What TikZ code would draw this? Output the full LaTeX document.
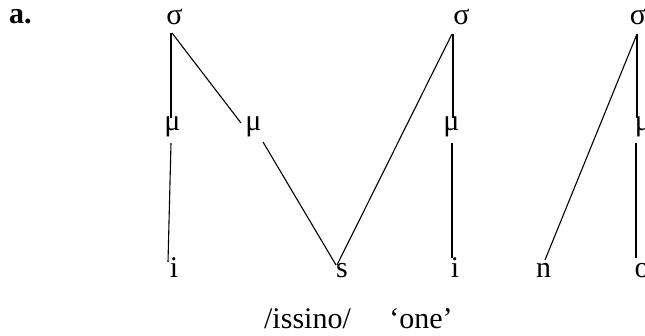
\documentclass[tikz,border=0pt]{standalone}
\usepackage{fontspec}
\setmainfont{Liberation Serif}
\usetikzlibrary{calc}
\tikzset{
  lab/.style={inner sep=0pt, anchor=base, font=\fontsize{30}{33}\selectfont},
  assoc/.style={draw=black, line width=1.1pt}
}
\begin{document}
\begin{tikzpicture}[x=1pt,y=1pt]
\useasboundingbox (0,0) rectangle (645,335);
\begin{scope}
\clip (0,0) rectangle (645,335);
\node[lab, anchor=base west, font=\fontsize{30}{33}\selectfont\bfseries] (a) at (9,311) {a.};
% syllables
\node[lab] (s1) at (174.5,310) {σ};
\node[lab] (s2) at (461.5,310) {σ};
\node[lab] (s3) at (638,310) {σ};
% moras
\node[lab] (m1) at (172.5,204) {μ};
\node[lab] (m2) at (253.5,204) {μ};
\node[lab] (m3) at (451.5,204) {μ};
\node[lab] (m4) at (643,204) {μ};
% segments
\node[lab] (i1) at (174,58) {i};
\node[lab] (sx) at (342,58) {s};
\node[lab] (i2) at (455,58) {i};
\node[lab] (n) at (543.5,58) {n};
\node[lab] (o) at (642,58) {o};
% gloss
\node[lab] (g1) at (307.5,7) {/issino/};
\node[lab] (g2) at (421,7) {‘one’};
% association lines
\draw[assoc] ($(s1.base)+(-3.5,-8)$) -- ($(m1.base)+(-1.5,13)$);
\draw[assoc] ($(s1.base)+(-2.5,-8)$) -- ($(m2.base)+(-12.5,8)$);
\draw[assoc] ($(m1.base)+(-1.5,-12)$) -- ($(i1.base)+(-6,15)$);
\draw[assoc] ($(m2.base)+(9.5,-11)$) -- ($(sx.base)+(-6,12)$);
\draw[assoc] ($(s2.base)+(-9.5,-9)$) -- ($(sx.base)+(-5,12)$);
\draw[assoc] ($(s2.base)+(-8.5,-9)$) -- ($(m3.base)+(1.5,13)$);
\draw[assoc] ($(m3.base)+(0.5,-12)$) -- ($(i2.base)+(-3,19)$);
\draw[assoc] ($(s3.base)+(-1,-9)$) -- ($(n.base)+(1.5,17)$);
\draw[assoc] ($(s3.base)+(-1,-9)$) -- ($(m4.base)+(-6,13)$);
\draw[assoc] ($(m4.base)+(-7,-12)$) -- ($(o.base)+(-6,19)$);
\end{scope}
\end{tikzpicture}
\end{document}
